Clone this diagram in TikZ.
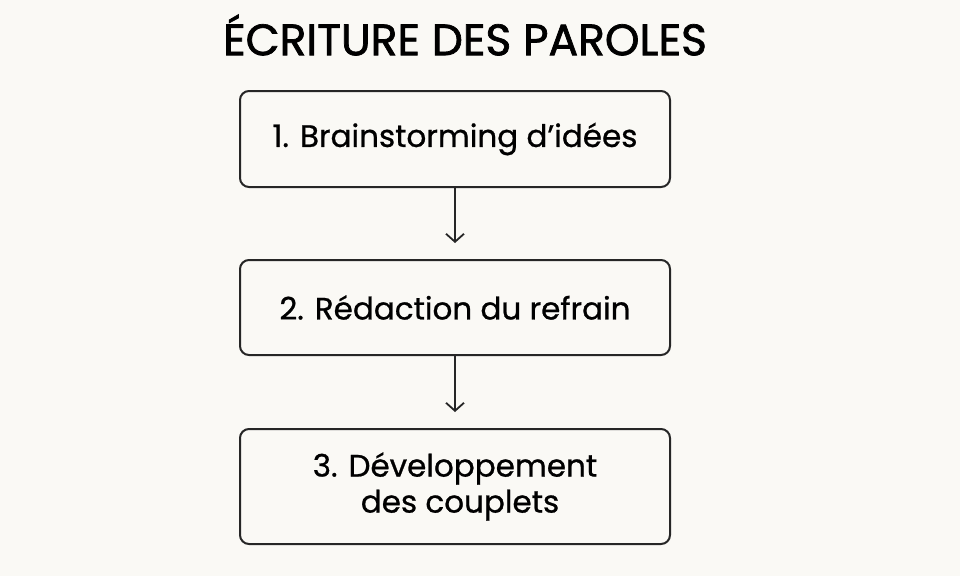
\documentclass[tikz,border=0pt]{standalone}
\usepackage{fontspec}
\usetikzlibrary{arrows.meta}
\setmainfont{Poppins}
\newfontfamily\medfont[FakeBold=0.8]{Poppins}
\newfontfamily\titlefont[FakeBold=1.6]{Poppins}
\begin{document}
\begin{tikzpicture}[x=1pt,y=-1pt,
  stepbox/.style={draw=black!85,line width=2pt,rounded corners=9pt,minimum width=430pt,align=center,font=\medfont\fontsize{31}{36}\selectfont},
  conn/.style={draw=black!85,line width=1.8pt,-{Straight Barb[length=8pt,width=18pt]}}]
\fill[fill={rgb,255:red,250;green,249;blue,245}] (0,0) rectangle (960,576);
\node (title) at (465,35) {\titlefont\fontsize{44}{48}\selectfont ÉCRITURE DES PAROLES};
\node[stepbox,minimum height=96pt] (b1) at (455,139) {1. Brainstorming d’idées};
\node[stepbox,minimum height=95pt] (b2) at (455,307.5) {2. Rédaction du refrain};
\node[stepbox,minimum height=115pt] (b3) at (455,486.5) {3. Développement\\\hspace*{10pt}des couplets};
\coordinate (a1) at (455,243);
\coordinate (a2) at (455,412);
\draw[conn] (b1.south) -- (a1);
\draw[conn] (b2.south) -- (a2);
\end{tikzpicture}
\end{document}
